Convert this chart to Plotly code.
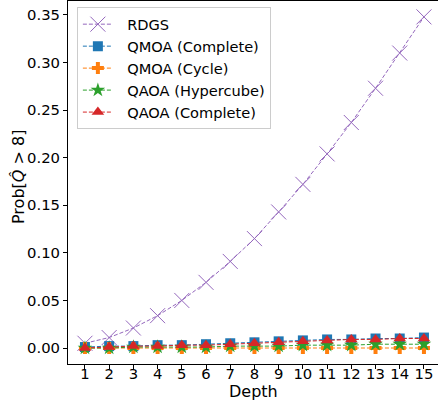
import plotly.graph_objects as go

depth = list(range(1, 16))
rdgs = [0.005, 0.011, 0.021, 0.034, 0.050, 0.069, 0.091, 0.115, 0.143, 0.172, 0.204, 0.237, 0.273, 0.310, 0.348]
qmoa_complete = [0.001, 0.002, 0.002, 0.003, 0.003, 0.004, 0.005, 0.006, 0.007, 0.008, 0.009, 0.009, 0.010, 0.010, 0.011]
qmoa_cycle = [0.000, 0.000, 0.000, 0.000, 0.000, 0.000, 0.000, 0.000, 0.000, 0.000, 0.000, 0.000, 0.000, 0.000, 0.000]
qaoa_hypercube = [0.000, 0.000, 0.001, 0.001, 0.001, 0.001, 0.002, 0.002, 0.002, 0.003, 0.003, 0.003, 0.004, 0.004, 0.004]
qaoa_complete = [0.000, 0.001, 0.002, 0.002, 0.003, 0.003, 0.004, 0.005, 0.006, 0.007, 0.008, 0.009, 0.009, 0.010, 0.010]
err_small = [0.0008] * 15
yticks = [0, 0.05, 0.10, 0.15, 0.20, 0.25, 0.30, 0.35]
ytick_labels = ["0.00", "0.05", "0.10", "0.15", "0.20", "0.25", "0.30", "0.35"]

FONT = "DejaVu Sans"
fig = go.Figure()

def add(name, y, color, symbol, size, err=None, open_marker=False):
    marker = dict(symbol=symbol, size=size, color=color)
    if open_marker:
        marker["line"] = dict(color=color, width=1)
    fig.add_trace(go.Scatter(
        x=depth, y=y, name="\u00a0\u00a0" + name, mode="lines+markers",
        line=dict(color=color, width=1, dash="4px,2px"),
        marker=marker,
        error_y=dict(type="data", array=err, color=color, thickness=1, width=0, visible=err is not None),
    ))

add("RDGS", rdgs, "#9467bd", "x-thin", 15, open_marker=True)
add("QMOA (Complete)", qmoa_complete, "#1f77b4", "square", 10, err_small)
add("QMOA (Cycle)", qmoa_cycle, "#ff7f0e", "cross", 10, err_small)
add("QAOA (Hypercube)", qaoa_hypercube, "#2ca02c", "star", 11, err_small)
add("QAOA (Complete)", qaoa_complete, "#d62728", "triangle-up", 11, err_small)

fig.update_layout(
    width=438, height=407,
    margin=dict(l=68, r=0, t=1, b=43),
    paper_bgcolor="white", plot_bgcolor="white",
    font=dict(family=FONT, size=14.5, color="black"),
    showlegend=True,
    legend=dict(
        x=0.024, y=0.983, xanchor="left", yanchor="top",
        bgcolor="rgba(255,255,255,0.8)", bordercolor="#cccccc", borderwidth=1,
        font=dict(family=FONT, size=14.6), tracegroupgap=0, itemwidth=30,
    ),
    xaxis=dict(
        range=[0.3, 15.58], tickmode="array", tickvals=depth, ticktext=[str(d) for d in depth],
        showline=True, linecolor="black", linewidth=1, mirror=True,
        ticks="outside", ticklen=4, tickcolor="black", showgrid=False, zeroline=False,
        tickfont=dict(size=14.8), ticklabelstandoff=-8,
    ),
    yaxis=dict(
        range=[-0.0168, 0.3647], tickmode="array",
        tickvals=yticks, ticktext=ytick_labels,
        showline=True, linecolor="black", linewidth=1,
        ticks="outside", ticklen=4, tickcolor="black", showgrid=False, zeroline=False,
        tickfont=dict(size=14.8),
    ),
    annotations=[
        dict(text="Depth", xref="paper", yref="paper", x=(253 - 68) / 370, y=-(392 - 364) / 363,
             xanchor="center", yanchor="middle", showarrow=False, font=dict(size=16)),
        dict(text="Prob[<i>Q\u0302</i> > 8]", xref="paper", yref="paper", x=-(68 - 18) / 370, y=(364 - 177) / 363,
             xanchor="center", yanchor="middle", showarrow=False, textangle=-90, font=dict(size=16)),
    ],
)

fig.write_html("out.html")
